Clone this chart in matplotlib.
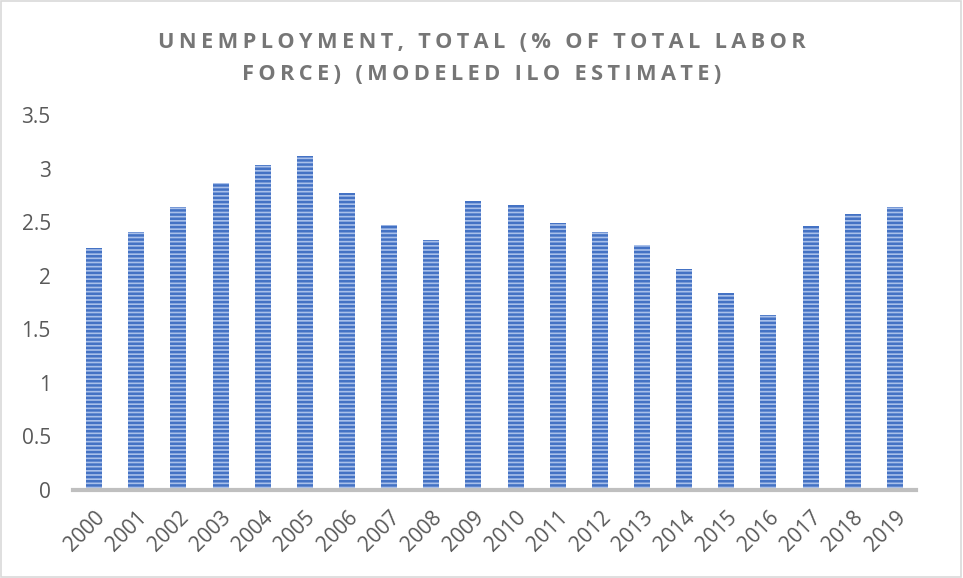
import matplotlib.pyplot as plt
from matplotlib.patches import Rectangle

years = ["2000", "2001", "2002", "2003", "2004", "2005", "2006", "2007", "2008", "2009",
         "2010", "2011", "2012", "2013", "2014", "2015", "2016", "2017", "2018", "2019"]
unemployment = [2.26, 2.41, 2.64, 2.87, 3.03, 3.12, 2.77, 2.47, 2.33, 2.70,
                2.66, 2.49, 2.41, 2.29, 2.06, 1.84, 1.63, 2.46, 2.58, 2.64]
yticks = [0, 0.5, 1, 1.5, 2, 2.5, 3, 3.5]
ytick_labels = ["0", "0.5", "1", "1.5", "2", "2.5", "3", "3.5"]
title_lines = ["UNEMPLOYMENT, TOTAL (% OF TOTAL LABOR", "FORCE) (MODELED ILO ESTIMATE)"]

plt.rcParams["font.family"] = ["Open Sans", "DejaVu Sans"]
plt.rcParams["hatch.linewidth"] = 1.8

fig = plt.figure(figsize=(9.63, 5.78), dpi=100)
ax = fig.add_axes([73 / 963, 1 - 490 / 578, (916 - 73) / 963, (490 - 115) / 578])

x = range(len(years))
ax.bar(x, unemployment, width=0.38, color="#A9C0EA", edgecolor="#4472C4",
       linewidth=0, hatch="----")

ax.set_xlim(-0.5, len(years) - 0.5)
ax.set_ylim(0, 3.5)
ax.set_yticks(yticks)
ax.set_yticklabels(ytick_labels)
ax.set_xticks(list(x))
ax.set_xticklabels(years, rotation=45, ha="right", rotation_mode="anchor")
ax.tick_params(axis="both", length=0, labelsize=15, labelcolor="#595959")
ax.tick_params(axis="x", pad=12)
ax.tick_params(axis="y", pad=16)

for side in ["top", "right", "left"]:
    ax.spines[side].set_visible(False)
ax.spines["bottom"].set_color("#BFBFBF")
ax.spines["bottom"].set_linewidth(3)

# letter-spaced title, like the original office chart
for line, ypix in zip(title_lines, [42, 74]):
    spaced = "\u2009".join(line)
    fig.text(0.5, 1 - ypix / 578, spaced, ha="center", va="center",
             fontsize=15.7, fontweight="bold", color="#767676")

fig.patches.append(Rectangle((0.001, 0.001), 0.997, 0.997, transform=fig.transFigure,
                             fill=False, edgecolor="#D9D9D9", linewidth=1.2))

fig.savefig("out.png", dpi=100)
